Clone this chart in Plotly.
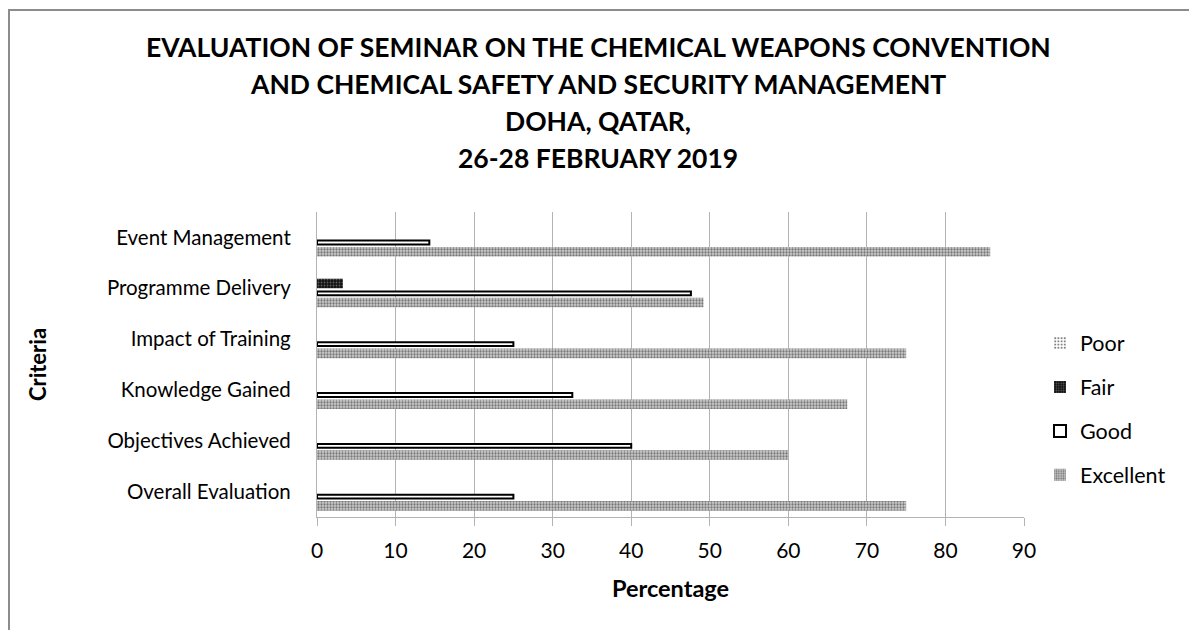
import plotly.graph_objects as go

categories = ["Overall Evaluation", "Objectives Achieved", "Knowledge Gained",
              "Impact of Training", "Programme Delivery", "Event Management"]
poor = [0, 0, 0, 0, 0, 0]
fair = [0, 0, 0, 0, 3.3, 0]
good = [25, 40, 32.5, 25, 47.6, 14.3]
excellent = [75, 60, 67.5, 75, 49.2, 85.7]
x_ticks = [0, 10, 20, 30, 40, 50, 60, 70, 80, 90]
title_lines = ["EVALUATION OF SEMINAR ON THE CHEMICAL WEAPONS CONVENTION",
               "AND CHEMICAL SAFETY AND SECURITY MANAGEMENT",
               "DOHA, QATAR,",
               "26-28 FEBRUARY 2019"]

FONT = "Lato"
BW = 0.1875  # slot width of each bar in category units
fig = go.Figure()

fig.add_trace(go.Bar(y=categories, x=excellent, name="Excellent", orientation="h",
                     legendgroup="e", legendrank=4, offset=-2 * BW, width=BW,
                     marker=dict(color="white", line=dict(width=0),
                                 pattern=dict(shape=".", fgcolor="#222", bgcolor="#cccccc",
                                              size=3, solidity=0.45))))
fig.add_trace(go.Bar(y=categories, x=good, name="Good", orientation="h",
                     legendgroup="g", legendrank=3, offset=-BW + 0.05, width=0.075,
                     marker=dict(color="white", line=dict(width=2, color="black"))))
fig.add_trace(go.Bar(y=categories, x=fair, name="Fair", orientation="h",
                     legendgroup="f", legendrank=2, offset=0, width=BW,
                     marker=dict(color="black", line=dict(width=0),
                                 pattern=dict(shape=".", fgcolor="#aaa", bgcolor="#111",
                                              size=3, solidity=0.3))))
fig.add_trace(go.Bar(y=categories, x=poor, name="Poor", orientation="h",
                     legendgroup="p", legendrank=1, offset=BW, width=BW,
                     marker=dict(color="white", line=dict(width=0),
                                 pattern=dict(shape=".", fgcolor="black", bgcolor="white",
                                              size=4, solidity=0.35))))

OFF = 8  # page offset of the figure inside the window
L, R, T, B = 317 - OFF, 181, 212 - OFF, 121
W, H = 1197, 630
pw, ph = W - L - R, H - T - B

def px(Xs):
    return (Xs - OFF - L) / pw

def py(Ys):
    return (H - B - (Ys - OFF)) / ph

annotations = []
for line, Y in zip(title_lines, [47, 84, 121, 158]):
    annotations.append(dict(text="<b>" + line + "</b>", x=px(598), y=py(Y), xref="paper",
                            yref="paper", showarrow=False, xanchor="center", yanchor="middle",
                            font=dict(family=FONT, size=26.5, color="black")))

fig.update_layout(
    width=W, height=H,
    margin=dict(l=L, r=R, t=T, b=B, autoexpand=False),
    paper_bgcolor="white", plot_bgcolor="white",
    barmode="group",
    font=dict(family=FONT, color="black"),
    annotations=annotations,
    shapes=[dict(type="rect", xref="paper", yref="paper",
                 x0=px(9), x1=px(1230), y0=py(10), y1=py(680),
                 line=dict(color="#8c8c8c", width=2), fillcolor="rgba(0,0,0,0)", layer="below")],
    legend=dict(x=px(1040), y=py(409), xanchor="left", yanchor="middle",
                traceorder="grouped", tracegroupgap=13,
                font=dict(family=FONT, size=21.5, color="black"),
                itemwidth=30, bgcolor="rgba(0,0,0,0)"),
    xaxis=dict(range=[0, 90], tickvals=x_ticks, showgrid=True, gridcolor="#b3b3b3",
               gridwidth=1.3, zeroline=False, showline=True, linecolor="#b3b3b3", linewidth=1.3,
               ticks="outside", ticklen=8, tickcolor="#b3b3b3", ticklabelstandoff=7,
               tickfont=dict(family=FONT, size=21, color="black"),
               title=dict(text="<b>Percentage</b>", font=dict(family=FONT, size=23.5, color="black"),
                          standoff=19)),
    yaxis=dict(categoryorder="array", categoryarray=categories, showgrid=False,
               showline=True, linecolor="#b3b3b3", linewidth=1.3, ticks="",
               ticklabelstandoff=21,
               tickfont=dict(family=FONT, size=20.5, color="black"),
               title=dict(text="<b>Criteria</b>", font=dict(family=FONT, size=22, color="black"),
                          standoff=54)),
)

fig.write_html("out.html")
